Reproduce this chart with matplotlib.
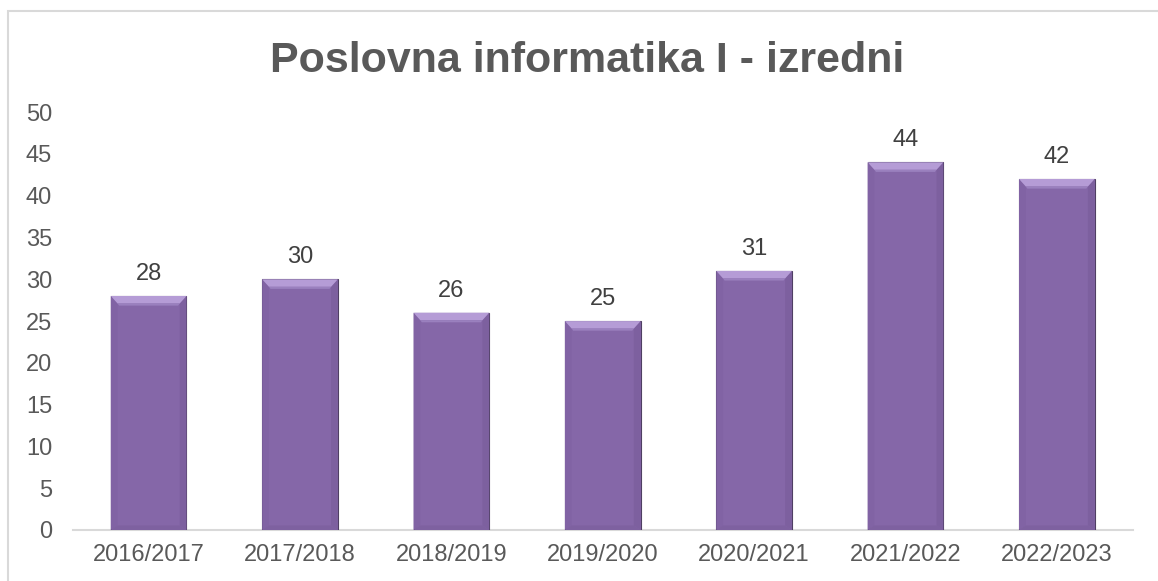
import numpy as np
import matplotlib.pyplot as plt
from matplotlib.patches import Rectangle, Polygon

# --- Datos ---
godine = ['2016/2017', '2017/2018', '2018/2019', '2019/2020',
          '2020/2021', '2021/2022', '2022/2023']
studenti = [28, 30, 26, 25, 31, 44, 42]
y_ticks = [0, 5, 10, 15, 20, 25, 30, 35, 40, 45, 50]

plt.rcParams['font.family'] = ['Liberation Sans', 'DejaVu Sans']

fig = plt.figure(figsize=(11.58, 5.81), dpi=100)
ax = fig.add_axes([0.063, 0.0878, 0.915, 0.7192])

# okvir grafikona (gore i lijevo)
fig.patches.append(Rectangle((8 / 1158, -0.1), 1.2, 1 - 11 / 581 + 0.1,
                             transform=fig.transFigure, fill=False,
                             edgecolor='#D9D9D9', linewidth=1.5))

x = np.arange(len(godine))
w = 0.5
ax.bar(x, studenti, width=w, color='#8567A8', edgecolor='#4F3F63',
       linewidth=0.8, zorder=2)

# efekt "bevel" na vrhu i dnu stupaca
dx, dy = 0.045, 0.9
for xi, v in zip(x, studenti):
    l, r = xi - w / 2, xi + w / 2
    ax.add_patch(Polygon([(l, v), (l + dx, v - dy), (l + dx, dy * 0.6), (l, 0)],
                         closed=True, facecolor='#8163A4', edgecolor='none', zorder=3))
    ax.add_patch(Polygon([(r, v), (r - dx, v - dy), (r - dx, dy * 0.6), (r, 0)],
                         closed=True, facecolor='#7D609F', edgecolor='none', zorder=3))
    ax.add_patch(Polygon([(l, 0), (r, 0), (r - dx, dy * 0.6), (l + dx, dy * 0.6)],
                         closed=True, facecolor='#7E61A0', edgecolor='none', zorder=3))
    ax.add_patch(Polygon([(l, v), (r, v), (r - dx, v - dy), (l + dx, v - dy)],
                         closed=True, facecolor='#B59CD6', edgecolor='none', zorder=3))
    ax.add_patch(Polygon([(l + dx, v - dy), (r - dx, v - dy),
                          (r - dx - 0.01, v - dy - 0.25), (l + dx + 0.01, v - dy - 0.25)],
                         closed=True, facecolor='#9A80BE', edgecolor='none', zorder=3))
    ax.annotate(str(v), (xi, v), xytext=(0, 11.5), textcoords='offset points',
                ha='center', va='baseline', fontsize=17, color='#404040')

ax.set_xlim(-0.5, len(godine) - 0.5)
ax.set_ylim(0, 50)
ax.set_yticks(y_ticks)
ax.set_xticks(x)
ax.set_xticklabels(godine)
ax.tick_params(axis='both', length=0, labelsize=17, labelcolor='#595959')
ax.tick_params(axis='y', pad=15)
ax.tick_params(axis='x', pad=10)

for s in ['top', 'right', 'left']:
    ax.spines[s].set_visible(False)
ax.spines['bottom'].set_color('#D9D9D9')
ax.spines['bottom'].set_linewidth(1.5)
ax.spines['bottom'].set_zorder(1)

fig.text(0.507, 1 - 72 / 581, 'Poslovna informatika I - izredni',
         ha='center', va='baseline', fontsize=31, fontweight='bold',
         color='#595959')

fig.savefig('out.png', dpi=100)
